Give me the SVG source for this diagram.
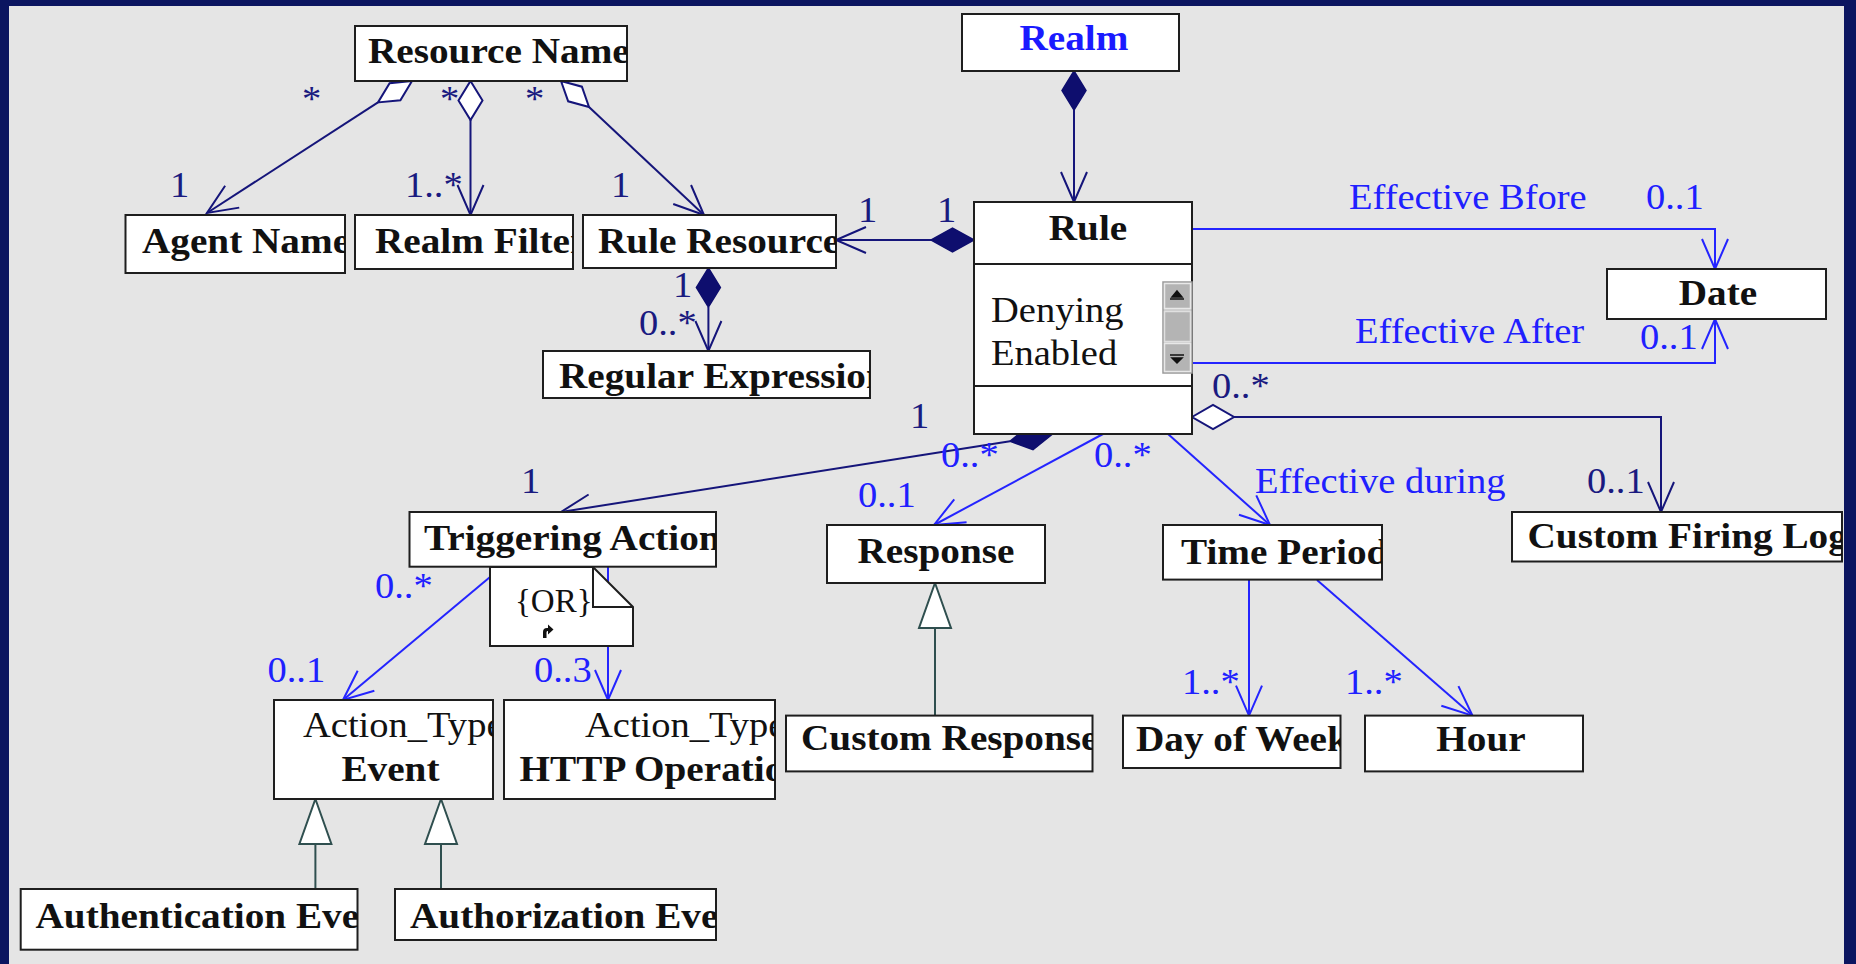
<svg xmlns="http://www.w3.org/2000/svg" width="1856" height="964" viewBox="0 0 1856 964">
<style>
.box{fill:#fff;stroke:#1e1e1e;stroke-width:2}
.t{font-family:"Liberation Serif","Times New Roman",serif;font-size:36px;transform-box:fill-box;transform-origin:0 50%;transform:scaleX(1.07)}
.b{font-weight:bold;fill:#111;transform:scaleX(1.09)}
.r{fill:#111}
.c{text-anchor:middle;transform-origin:50% 50%}
.nv{fill:#1a1a80}
.bl{fill:#2020ff}
.cn{fill:none;stroke:#15157a;stroke-width:2}
.cb{fill:none;stroke:#2424ff;stroke-width:2}
.cg{fill:none;stroke:#2f4f4f;stroke-width:2}
.dn{fill:#0e0e6e;stroke:#0e0e6e;stroke-width:1.5}
.dh{fill:#fff;stroke:#15157a;stroke-width:2}
.tri{fill:#fff;stroke:#2f4f4f;stroke-width:2}
</style>
<defs>
<marker id="an" viewBox="-32 -15 34 30" markerWidth="34" markerHeight="30" refX="0" refY="0" orient="auto" markerUnits="userSpaceOnUse" overflow="visible"><path d="M-30,-13 L0,0 L-30,13" fill="none" stroke="#15157a" stroke-width="2"/></marker>
<marker id="ab" viewBox="-32 -15 34 30" markerWidth="34" markerHeight="30" refX="0" refY="0" orient="auto" markerUnits="userSpaceOnUse" overflow="visible"><path d="M-30,-13 L0,0 L-30,13" fill="none" stroke="#2424ff" stroke-width="2"/></marker>
<clipPath id="k1"><rect x="355" y="26" width="272" height="55"/></clipPath>
<clipPath id="k3"><rect x="125.5" y="215" width="219.5" height="58"/></clipPath>
<clipPath id="k4"><rect x="355" y="215" width="218" height="54"/></clipPath>
<clipPath id="k5"><rect x="583" y="215" width="253" height="53"/></clipPath>
<clipPath id="k6"><rect x="543" y="351" width="327" height="47"/></clipPath>
<clipPath id="k9"><rect x="1512" y="512" width="330" height="49.5"/></clipPath>
<clipPath id="k10"><rect x="409.5" y="512" width="306.5" height="54.7"/></clipPath>
<clipPath id="k12"><rect x="1163" y="525" width="219" height="54.6"/></clipPath>
<clipPath id="k13"><rect x="274" y="700" width="219" height="99"/></clipPath>
<clipPath id="k14"><rect x="504" y="700" width="271" height="99"/></clipPath>
<clipPath id="k15"><rect x="786" y="715.6" width="306.5" height="55.8"/></clipPath>
<clipPath id="k16"><rect x="1123" y="715.6" width="217.5" height="52.4"/></clipPath>
<clipPath id="k18"><rect x="20.7" y="889" width="336.8" height="60.7"/></clipPath>
<clipPath id="k19"><rect x="395" y="889" width="321" height="51"/></clipPath>
</defs>
<rect x="0" y="0" width="1856" height="964" fill="#0b1560"/>
<rect x="9" y="6" width="1835" height="958" fill="#e5e5e5"/>

<g id="connectors">
<!-- Resource Name to Agent Name -->
<polygon class="dh" points="412,81 400.4,100.2 378,102.4 389.6,83.2"/>
<line class="cn" x1="378" y1="102.4" x2="207" y2="213" marker-end="url(#an)"/>
<!-- Resource Name to Realm Filter -->
<polygon class="dh" points="470.5,81 482.5,100.5 470.5,120 458.5,100.5"/>
<line class="cn" x1="470.5" y1="120" x2="470.5" y2="215" marker-end="url(#an)"/>
<!-- Resource Name to Rule Resource -->
<polygon class="dh" points="561,81 581.9,86.7 589,107 568.2,101.3"/>
<line class="cn" x1="589" y1="107" x2="704" y2="215" marker-end="url(#an)"/>
<!-- Rule to Rule Resource -->
<polygon class="dn" points="974,240 952.5,228 931,240 952.5,252"/>
<line class="cn" x1="931" y1="240" x2="836" y2="240" marker-end="url(#an)"/>
<!-- Rule Resource to Regular Expression -->
<polygon class="dn" points="708.4,268 720.4,287.5 708.4,307 696.4,287.5"/>
<line class="cn" x1="708.4" y1="307" x2="708.4" y2="351" marker-end="url(#an)"/>
<!-- Realm to Rule -->
<polygon class="dn" points="1074,71 1086,90.5 1074,110 1062,90.5"/>
<line class="cn" x1="1074" y1="110" x2="1074" y2="202" marker-end="url(#an)"/>
<!-- Rule to Custom Firing Log -->
<polygon class="dh" points="1192,417 1213,405 1234,417 1213,429"/>
<polyline class="cn" points="1234,417 1661,417 1661,512" marker-end="url(#an)"/>
<!-- Rule to Triggering Action -->
<polygon class="dn" points="1052,434.5 1033,449.7 1010,441.2 1029,426"/>
<line class="cn" x1="1010" y1="441.2" x2="561" y2="512" marker-end="url(#an)"/>
<!-- Rule to Date -->
<polyline class="cb" points="1192,229 1715,229 1715,269" marker-end="url(#ab)"/>
<polyline class="cb" points="1192,363 1715,363 1715,319" marker-end="url(#ab)"/>
<!-- Rule to Response / Time Period -->
<line class="cb" x1="1103" y1="434" x2="934" y2="525" marker-end="url(#ab)"/>
<line class="cb" x1="1168" y1="434" x2="1270" y2="525" marker-end="url(#ab)"/>
<!-- Triggering Action to Event / HTTP -->
<line class="cb" x1="502" y1="567" x2="343" y2="700" marker-end="url(#ab)"/>
<line class="cb" x1="608" y1="567" x2="608" y2="700" marker-end="url(#ab)"/>
<!-- Time Period to Day of Week / Hour -->
<line class="cb" x1="1249" y1="580" x2="1249" y2="715.6" marker-end="url(#ab)"/>
<line class="cb" x1="1317" y1="580" x2="1472.5" y2="715.6" marker-end="url(#ab)"/>
<!-- Generalizations -->
<line class="cg" x1="935" y1="628" x2="935" y2="715.6"/>
<polygon class="tri" points="935,583 951,628 919,628"/>
<line class="cg" x1="315.4" y1="844" x2="315.4" y2="889"/>
<polygon class="tri" points="315.4,799 331.4,844 299.4,844"/>
<line class="cg" x1="441" y1="844" x2="441" y2="889"/>
<polygon class="tri" points="441,799 457,844 425,844"/>
<!-- labels -->
<text class="t nv" x="302" y="111">*</text>
<text class="t nv" x="440" y="111">*</text>
<text class="t nv" x="525" y="111">*</text>
<text class="t nv" x="170" y="197">1</text>
<text class="t nv" x="405" y="197">1..*</text>
<text class="t nv" x="611" y="197">1</text>
<text class="t nv" x="858" y="222">1</text>
<text class="t nv" x="937" y="222">1</text>
<text class="t nv" x="673" y="297">1</text>
<text class="t nv" x="639" y="335">0..*</text>
<text class="t nv" x="1212" y="398">0..*</text>
<text class="t nv" x="1587" y="493">0..1</text>
<text class="t nv" x="910" y="428">1</text>
<text class="t nv" x="521" y="493">1</text>
<text class="t bl" x="1349" y="209">Effective Bfore</text>
<text class="t bl" x="1646" y="209">0..1</text>
<text class="t bl" x="1355" y="343">Effective After</text>
<text class="t bl" x="1640" y="349">0..1</text>
<text class="t bl" x="941" y="467">0..*</text>
<text class="t bl" x="1094" y="467">0..*</text>
<text class="t bl" x="858" y="507">0..1</text>
<text class="t bl" x="1255" y="493">Effective during</text>
<text class="t bl" x="375" y="598">0..*</text>
<text class="t bl" x="267.5" y="682">0..1</text>
<text class="t bl" x="534" y="682">0..3</text>
<text class="t bl" x="1182" y="694">1..*</text>
<text class="t bl" x="1345" y="694">1..*</text>
</g>

<g id="resource-name">
<rect class="box" x="355" y="26" width="272" height="55"/>
<g clip-path="url(#k1)"><text class="t b" x="368" y="63">Resource Name</text></g>
</g>
<g id="realm">
<rect class="box" x="962" y="14" width="217" height="57"/>
<text class="t b c" x="1074" y="50" style="fill:#1a1aff">Realm</text>
</g>
<g id="agent-name">
<rect class="box" x="125.5" y="215" width="219.5" height="58"/>
<g clip-path="url(#k3)"><text class="t b" x="142" y="253">Agent Name</text></g>
</g>
<g id="realm-filter">
<rect class="box" x="355" y="215" width="218" height="54"/>
<g clip-path="url(#k4)"><text class="t b" x="375" y="253">Realm Filter</text></g>
</g>
<g id="rule-resource">
<rect class="box" x="583" y="215" width="253" height="53"/>
<g clip-path="url(#k5)"><text class="t b" x="598" y="253">Rule Resource</text></g>
</g>
<g id="regular-expression">
<rect class="box" x="543" y="351" width="327" height="47"/>
<g clip-path="url(#k6)"><text class="t b" x="559" y="388">Regular Expression</text></g>
</g>
<g id="rule">
<rect class="box" x="974" y="202" width="218" height="232"/>
<line x1="974" y1="264" x2="1192" y2="264" stroke="#1e1e1e" stroke-width="2"/>
<line x1="974" y1="386" x2="1192" y2="386" stroke="#1e1e1e" stroke-width="2"/>
<text class="t b c" x="1088" y="240">Rule</text>
<text class="t r" x="991" y="322">Denying</text>
<text class="t r" x="991" y="365">Enabled</text>
<rect x="1163" y="282" width="29" height="91" fill="#c8c8c8" stroke="#999" stroke-width="1.5"/>
<rect x="1164.5" y="283.5" width="26" height="25" fill="#b4b4b4" stroke="#e8e8e8" stroke-width="1.5"/>
<rect x="1164.5" y="311.5" width="26" height="30" fill="#b4b4b4" stroke="#e0e0e0" stroke-width="1.5"/>
<rect x="1164.5" y="343.5" width="26" height="28" fill="#b4b4b4" stroke="#e8e8e8" stroke-width="1.5"/>
<path d="M1177,291 L1182,297 L1172,297 Z M1170,299 H1184" fill="#111" stroke="#111" stroke-width="1.5"/>
<path d="M1170,355 H1184 M1172,358 L1182,358 L1177,363 Z" fill="#111" stroke="#111" stroke-width="1.5"/>
</g>
<g id="date">
<rect class="box" x="1607" y="269" width="219" height="50"/>
<text class="t b c" x="1718" y="305">Date</text>
</g>
<g id="custom-firing-log">
<rect class="box" x="1512" y="512" width="330" height="49.5"/>
<g clip-path="url(#k9)"><text class="t b" x="1527.5" y="548">Custom Firing Log</text></g>
</g>
<g id="triggering-action">
<rect class="box" x="409.5" y="512" width="306.5" height="54.7"/>
<g clip-path="url(#k10)"><text class="t b" x="424" y="550">Triggering Action</text></g>
</g>
<g id="response">
<rect class="box" x="827" y="525" width="218" height="58"/>
<text class="t b c" x="936" y="563">Response</text>
</g>
<g id="time-period">
<rect class="box" x="1163" y="525" width="219" height="54.6"/>
<g clip-path="url(#k12)"><text class="t b" x="1181" y="564">Time Period</text></g>
</g>
<g id="event">
<rect class="box" x="274" y="700" width="219" height="99"/>
<g clip-path="url(#k13)"><text class="t r" x="303" y="737">Action_Type</text>
<text class="t b c" x="390.5" y="781">Event</text></g>
</g>
<g id="http-operation">
<rect class="box" x="504" y="700" width="271" height="99"/>
<g clip-path="url(#k14)"><text class="t r" x="585" y="737">Action_Type</text>
<text class="t b" x="519.6" y="781">HTTP Operation</text></g>
</g>
<g id="custom-response">
<rect class="box" x="786" y="715.6" width="306.5" height="55.8"/>
<g clip-path="url(#k15)"><text class="t b" x="801" y="750">Custom Response</text></g>
</g>
<g id="day-of-week">
<rect class="box" x="1123" y="715.6" width="217.5" height="52.4"/>
<g clip-path="url(#k16)"><text class="t b" x="1136" y="751">Day of Week</text></g>
</g>
<g id="hour">
<rect class="box" x="1365" y="715.6" width="218" height="55.8"/>
<text class="t b c" x="1481" y="751">Hour</text>
</g>
<g id="authentication-event">
<rect class="box" x="20.7" y="889" width="336.8" height="60.7"/>
<g clip-path="url(#k18)"><text class="t b" x="35.5" y="928">Authentication Event</text></g>
</g>
<g id="authorization-event">
<rect class="box" x="395" y="889" width="321" height="51"/>
<g clip-path="url(#k19)"><text class="t b" x="410" y="928">Authorization Event</text></g>
</g>
<g id="or-note">
<polygon class="box" points="490,567 593,567 633,607 633,646 490,646"/>
<polyline points="593,567 593,607 633,607" fill="none" stroke="#1e1e1e" stroke-width="2"/>
<text x="515" y="612" style="font-family:'Liberation Serif','Times New Roman',serif;font-size:33px;fill:#111">{OR}</text>
<path d="M543,638 L543,632 Q543,628 547,628 L548,628 L548,624.5 L553.5,629.5 L548,634.5 L548,631 L547.5,631 Q546.5,631 546.5,632.5 L546.5,638 Z" fill="#111"/>
</g>
</svg>
